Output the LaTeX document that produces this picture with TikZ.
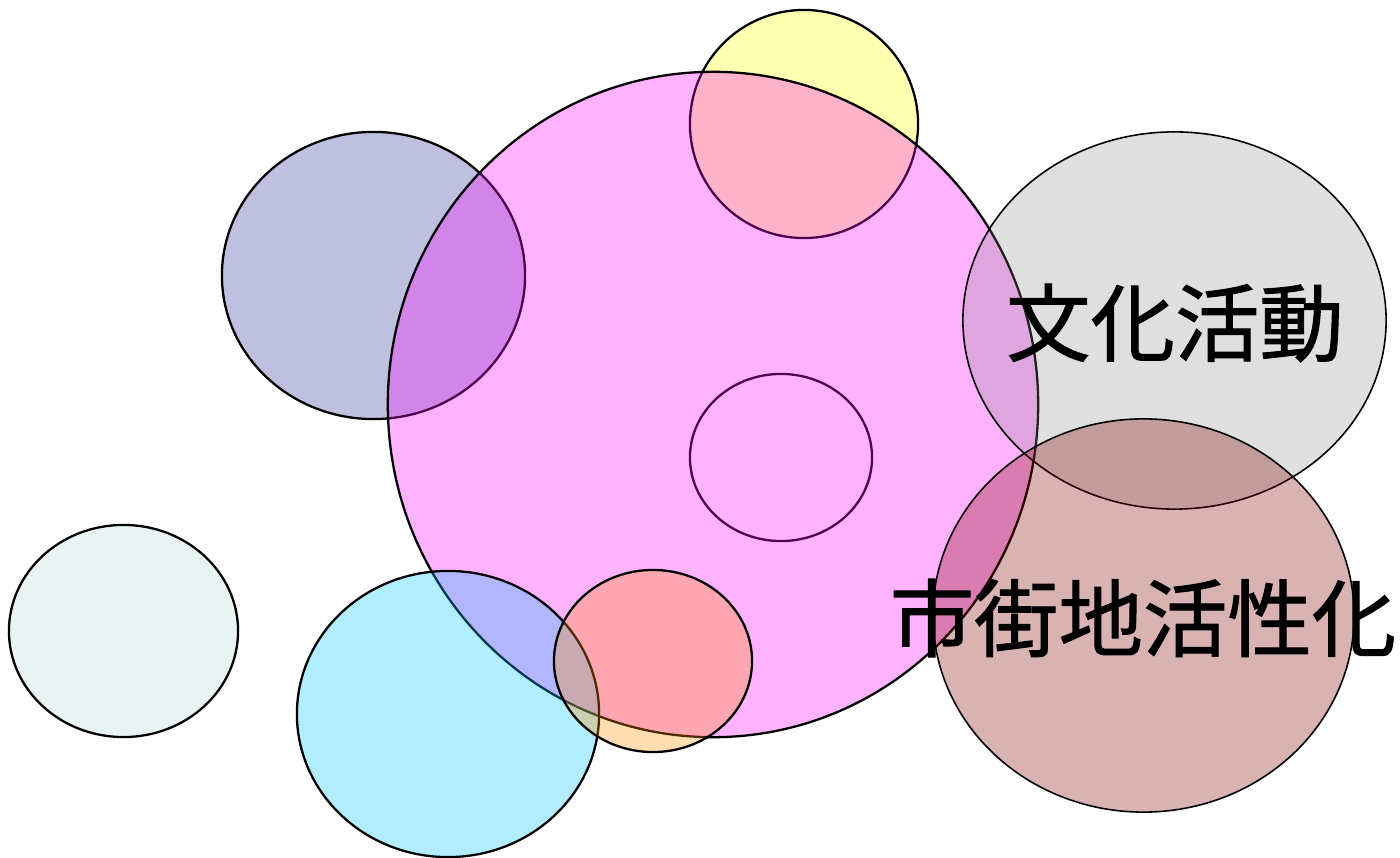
\documentclass[tikz,border=0pt]{standalone}
\usepackage{fontspec}
\newfontfamily\jpfont[FakeBold=1.2]{Noto Sans CJK JP}
\usetikzlibrary{shapes.geometric}
\definecolor{magentac}{HTML}{FF00FF}
\definecolor{yellowc}{HTML}{FFFF00}
\definecolor{navyc}{HTML}{000080}
\definecolor{grayc}{HTML}{808080}
\definecolor{maroonc}{HTML}{800000}
\definecolor{tealc}{HTML}{008080}
\definecolor{skyc}{HTML}{00BFFF}
\definecolor{orangec}{HTML}{FF8C00}

\begin{document}
\begin{tikzpicture}[x=0.01cm, y=-0.01cm,
    blob/.style={draw, ellipse, inner sep=0pt, line width=0.65pt, fill opacity=0.3},
    thin blob/.style={blob, line width=0.45pt},
    lbl/.style={font=\jpfont\fontsize{24}{28}\selectfont, inner sep=0pt}]
  \useasboundingbox (0,0) rectangle (1400,858);
  \node[blob, fill=navyc, fill opacity=0.25,
    minimum width=3.03cm, minimum height=2.87cm] (left) at (373.5,275.5) {};
  \node[blob, fill=yellowc,
    minimum width=2.28cm, minimum height=2.28cm] (top) at (804,124) {};
  \node[blob, minimum width=1.82cm, minimum height=1.67cm] (inner) at (781,457.5) {};
  \node[blob, fill=magentac,
    minimum width=6.5cm, minimum height=6.65cm] (center) at (713,404.5) {};
  \node[thin blob, fill=grayc, fill opacity=0.25,
    minimum width=4.23cm, minimum height=3.77cm] (bunka) at (1174.5,320.5) {};
  \node[thin blob, fill=maroonc,
    minimum width=4.21cm, minimum height=3.93cm] (shigai) at (1143.5,615.5) {};
  \node[blob, fill=tealc, fill opacity=0.09,
    minimum width=2.29cm, minimum height=2.12cm] (far) at (123.5,631) {};
  \node[blob, fill=skyc,
    minimum width=3.02cm, minimum height=2.86cm] (bottom) at (448,714) {};
  \node[blob, fill=orangec,
    minimum width=1.98cm, minimum height=1.82cm] (small) at (653,661) {};
  \node[lbl] (bunkatxt) at (1175,323) {文化活動};
  \node[lbl] (shigaitxt) at (1143,618) {市街地活性化};
\end{tikzpicture}
\end{document}
